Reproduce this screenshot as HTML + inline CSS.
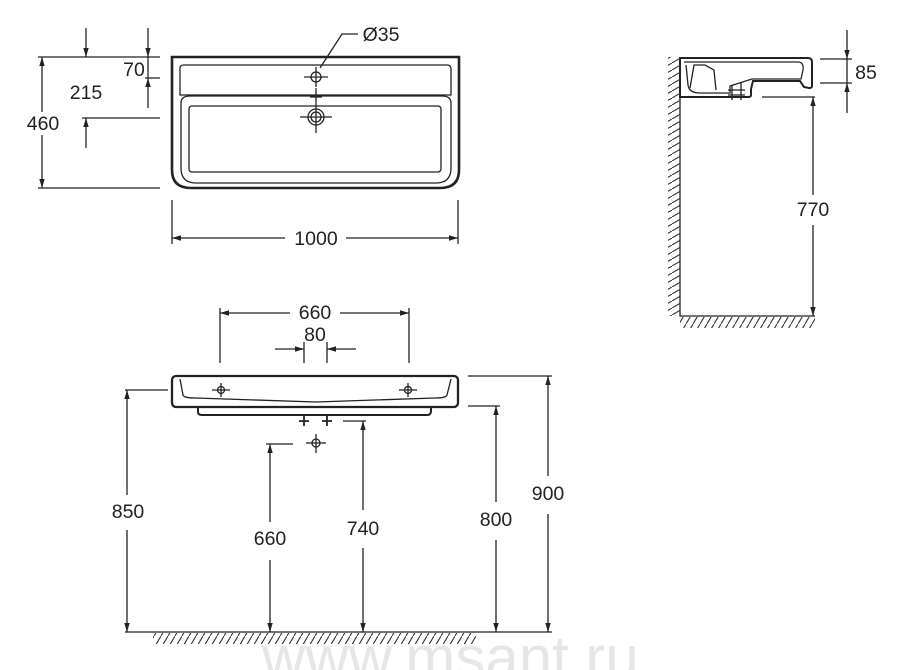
<!DOCTYPE html>
<html><head><meta charset="utf-8"><style>
html,body{margin:0;padding:0;background:#fff;}
svg{display:block;}
text{font-family:"Liberation Sans",Arial,sans-serif;fill:#222;}
</style></head><body>
<svg width="900" height="670" viewBox="0 0 900 670" xmlns="http://www.w3.org/2000/svg">
<defs>
<marker id="a" viewBox="0 0 10 10" refX="10" refY="5" markerWidth="9" markerHeight="9" orient="auto-start-reverse" markerUnits="userSpaceOnUse"><path d="M0,2 L10,5 L0,8 z" fill="#222"/></marker>
<pattern id="h" width="7" height="12" patternUnits="userSpaceOnUse"><path d="M0,12 L7,0" stroke="#333" stroke-width="1.1"/></pattern>
<pattern id="hv" width="12" height="7" patternUnits="userSpaceOnUse"><path d="M0,7 L12,0" stroke="#333" stroke-width="1.1"/></pattern>
</defs>
<text x="262" y="678" font-size="60" style="fill:#e6e6e6">www.msant.ru</text>
<g fill="none" stroke="#222" stroke-width="1.3">
<!-- TOP VIEW -->
<path d="M172,57 H459 V170 Q459,188 440,188 H191 Q172,188 172,170 Z" stroke-width="2.6"/>
<path d="M180,68 Q180,65 184,65 H447 Q451,65 451,69 V95 H180 Z"/>
<path d="M181,103 Q181,96 190,96 H442 Q451,96 451,103 V168 Q451,183 436,183 H196 Q181,183 181,168 Z"/>
<rect x="189" y="106" width="252" height="66" rx="3"/>
<circle cx="316" cy="77" r="5"/>
<path d="M304,77 H328 M316,67 V87"/>
<path d="M310,97 H322 M316,88 V102"/>
<circle cx="316" cy="117" r="8"/><circle cx="316" cy="117" r="5"/>
<path d="M300,117 H332 M316,102 V133"/>
<path d="M320,68 L342,34 H358"/>
<!-- dims top -->
<path d="M38,57 H160 M38,188 H160 M82,118 H160 M145,78 H160"/>
<line x1="42" y1="112" x2="42" y2="57" marker-end="url(#a)"/>
<line x1="42" y1="135" x2="42" y2="188" marker-end="url(#a)"/>
<line x1="86" y1="28" x2="86" y2="57" marker-end="url(#a)"/>
<line x1="86" y1="148" x2="86" y2="118" marker-end="url(#a)"/>
<line x1="148" y1="28" x2="148" y2="57" marker-end="url(#a)"/>
<line x1="148" y1="108" x2="148" y2="78" marker-end="url(#a)"/>
<path d="M148,57 V78"/>
<path d="M172,200 V244 M458,200 V244"/>
<line x1="285" y1="238" x2="172" y2="238" marker-end="url(#a)"/>
<line x1="346" y1="238" x2="458" y2="238" marker-end="url(#a)"/>
<!-- SIDE VIEW -->
<path d="M680,57 V316 H815"/>
<path d="M680,58 H808 Q812,58 812,62 V86 Q812,88 809,88 L804,87 L800,81 H753 L751,89 V95 Q751,97 748,97 H680 Z" stroke-width="2"/>
<path d="M684,62 H798 Q804,62 803,70 L801,79 H752 L730,86 V93 L700,93 Q689,93 688,85 L686,65"/>
<path d="M690,88 L694,65 H705 L714,70 L716,90"/>
<path d="M732,86 V100 M741,82 V100 M728,90 H745 M728,95 H745"/>
<path d="M820,59 H852 M820,83 H852 M762,97 H815"/>
<line x1="847" y1="30" x2="847" y2="59" marker-end="url(#a)"/>
<line x1="847" y1="113" x2="847" y2="83" marker-end="url(#a)"/>
<path d="M847,59 V83"/>
<line x1="813" y1="195" x2="813" y2="97" marker-end="url(#a)"/>
<line x1="813" y1="225" x2="813" y2="316" marker-end="url(#a)"/>
<!-- FRONT VIEW -->
<rect x="172" y="376" width="286" height="31" rx="4" stroke-width="2.3"/>
<path d="M180,379 L183,395 Q184,398 195,398 L316,402 L435,398 Q446,398 447,395 L451,379"/>
<path d="M198,407 V412 Q198,415 202,415 H427 Q431,415 431,411 V407" stroke-width="2"/>
<circle cx="221" cy="390" r="3.5"/><path d="M212,390 H230 M221,383 V397"/>
<circle cx="408" cy="390" r="3.5"/><path d="M399,390 H417 M408,383 V397"/>
<path d="M299,421 H309 M304,416 V426 M322,421 H332 M327,416 V426" stroke-width="1.8"/>
<circle cx="316" cy="443" r="4"/><path d="M306,443 H326 M316,434 V453"/>
<path d="M220,308 V363 M409,308 V363 M304,342 V363 M327,342 V363"/>
<line x1="290" y1="313" x2="220" y2="313" marker-end="url(#a)"/>
<line x1="340" y1="313" x2="409" y2="313" marker-end="url(#a)"/>
<line x1="275" y1="349" x2="304" y2="349" marker-end="url(#a)"/>
<line x1="356" y1="349" x2="327" y2="349" marker-end="url(#a)"/>
<path d="M125,390 H168 M266,444 H293 M343,421 H366 M468,406 H500 M468,376 H552"/>
<line x1="127" y1="495" x2="127" y2="390" marker-end="url(#a)"/>
<line x1="127" y1="530" x2="127" y2="632" marker-end="url(#a)"/>
<line x1="270" y1="522" x2="270" y2="444" marker-end="url(#a)"/>
<line x1="270" y1="560" x2="270" y2="632" marker-end="url(#a)"/>
<line x1="363" y1="510" x2="363" y2="421" marker-end="url(#a)"/>
<line x1="363" y1="548" x2="363" y2="632" marker-end="url(#a)"/>
<line x1="496" y1="502" x2="496" y2="406" marker-end="url(#a)"/>
<line x1="496" y1="540" x2="496" y2="632" marker-end="url(#a)"/>
<line x1="548" y1="476" x2="548" y2="376" marker-end="url(#a)"/>
<line x1="548" y1="514" x2="548" y2="632" marker-end="url(#a)"/>
<path d="M125,632 H552"/>
</g>
<rect x="668" y="57" width="12" height="259" fill="url(#hv)"/>
<rect x="680" y="317" width="135" height="11" fill="url(#h)"/>
<rect x="153" y="633" width="323" height="11" fill="url(#h)"/>
<g font-size="19.5" text-anchor="middle">
<text x="43" y="130">460</text>
<text x="86" y="99">215</text>
<text x="134" y="76">70</text>
<text x="381" y="41">Ø35</text>
<text x="316" y="245">1000</text>
<text x="866" y="79">85</text>
<text x="813" y="216">770</text>
<text x="315" y="319">660</text>
<text x="315" y="341">80</text>
<text x="128" y="518">850</text>
<text x="270" y="545">660</text>
<text x="363" y="535">740</text>
<text x="496" y="526">800</text>
<text x="548" y="500">900</text>
</g>
</svg>
</body></html>
